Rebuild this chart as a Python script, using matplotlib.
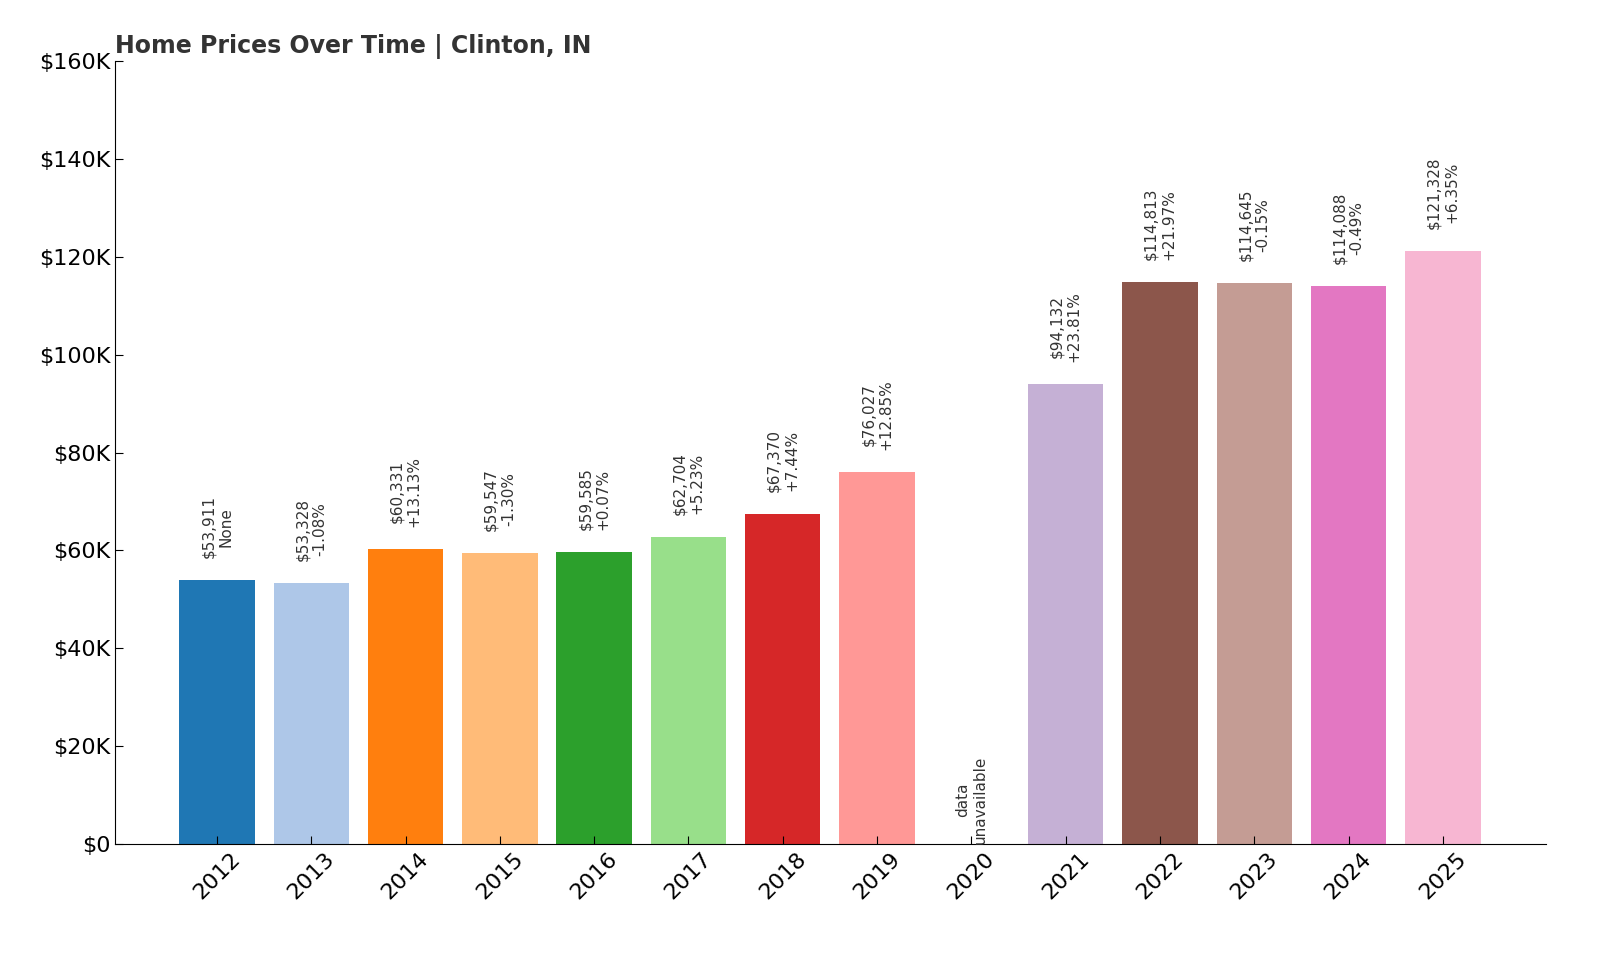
import matplotlib.pyplot as plt
import numpy as np

years = ['2012', '2013', '2014', '2015', '2016', '2017', '2018', '2019', '2020',
         '2021', '2022', '2023', '2024', '2025']
prices = [53911, 53328, 60331, 59547, 59585, 62704, 67370, 76027, None,
          94132, 114813, 114645, 114088, 121328]
changes = ['None', '-1.08%', '+13.13%', '-1.30%', '+0.07%', '+5.23%', '+7.44%', '+12.85%', None,
           '+23.81%', '+21.97%', '-0.15%', '-0.49%', '+6.35%']

colors = plt.cm.tab20(np.arange(len(years)) % 20)

fig = plt.figure(figsize=(16, 9.6), dpi=100)
ax = fig.add_axes([0.072, 0.121, 0.894, 0.815])

x = np.arange(len(years))
for i, (p, c) in enumerate(zip(prices, changes)):
    if p is None:
        ax.text(i, 0, 'data\nunavailable', rotation=90, ha='center', va='bottom',
                fontsize=11, color='#333333')
        continue
    ax.bar(i, p, width=0.8, color=colors[i])
    ax.text(i, p + 4500, f'${p:,}\n{c}', rotation=90, ha='center', va='bottom',
            fontsize=11, color='#333333')

ax.set_xlim(-1.08, len(years) - 1 + 1.09)
ax.set_ylim(0, 160000)
ax.set_xticks(x)
ax.set_xticklabels(years, rotation=45, fontsize=16)
ax.set_yticks(np.arange(0, 160001, 20000))
ax.set_yticklabels(['$0'] + [f'${v // 1000}K' for v in range(20000, 160001, 20000)], fontsize=16)
ax.tick_params(direction='in', length=6)
ax.spines['top'].set_visible(False)
ax.spines['right'].set_visible(False)
ax.set_title('Home Prices Over Time | Clinton, IN', loc='left', fontsize=17,
             fontweight='bold', color='#333333')

fig.savefig('out.png')
